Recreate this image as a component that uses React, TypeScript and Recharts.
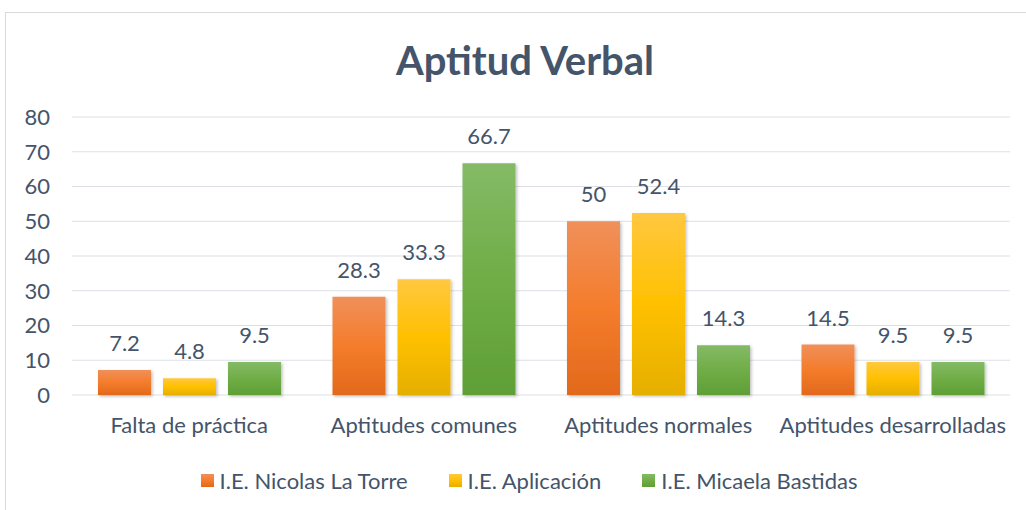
import React from "react";
import { BarChart, Bar, XAxis, YAxis, CartesianGrid, LabelList, Legend } from "recharts";

const categories = ["Falta de práctica", "Aptitudes comunes", "Aptitudes normales", "Aptitudes desarrolladas"];
const nicolasLaTorre = [7.2, 28.3, 50, 14.5];
const aplicacion = [4.8, 33.3, 52.4, 9.5];
const micaelaBastidas = [9.5, 66.7, 14.3, 9.5];
const yTicks = [0, 10, 20, 30, 40, 50, 60, 70, 80];

const seriesInfo = [
  { key: "nicolas", name: "I.E. Nicolas La Torre", grad: "gOrange", stops: ["#F0905A", "#F47C2C", "#E2691B"] },
  { key: "aplicacion", name: "I.E. Aplicación", grad: "gYellow", stops: ["#FFC840", "#FFC000", "#E5AF00"] },
  { key: "micaela", name: "I.E. Micaela Bastidas", grad: "gGreen", stops: ["#84BA66", "#70AD47", "#5F9F36"] },
];

const data = categories.map((c, i) => ({
  category: c,
  nicolas: nicolasLaTorre[i],
  aplicacion: aplicacion[i],
  micaela: micaelaBastidas[i],
}));

const FONT = "Lato, 'Open Sans', sans-serif";
const TEXT = "#44546A";
const FS = 22;

const LegendContent = () => (
  <div style={{ display: "flex", justifyContent: "center", gap: 41, fontFamily: FONT, fontSize: FS, color: TEXT, paddingLeft: 48 }}>
    {seriesInfo.map((s) => (
      <div key={s.key} style={{ display: "flex", alignItems: "center" }}>
        <span
          style={{
            display: "inline-block",
            width: 13,
            height: 13,
            marginRight: 6,
            background: `linear-gradient(${s.stops[0]}, ${s.stops[1]}, ${s.stops[2]})`,
          }}
        />
        <span>{s.name}</span>
      </div>
    ))}
  </div>
);

export default function App() {
  return (
    <div style={{ position: "absolute", left: 0, top: 0, width: 1026, height: 510, background: "#fff", overflow: "hidden" }}>
      <div
        style={{
          position: "absolute",
          left: 5,
          top: 12,
          width: 1100,
          height: 600,
          border: "1px solid #D9D9D9",
          boxSizing: "border-box",
        }}
      />
      <div
        style={{
          position: "absolute",
          left: 0,
          width: 1050,
          top: 36,
          lineHeight: "48px",
          textAlign: "center",
          fontFamily: FONT,
          fontWeight: 700,
          fontSize: 40,
          color: TEXT,
        }}
      >
        Aptitud Verbal
      </div>
      <div style={{ position: "absolute", left: 0, top: 0 }}>
        <BarChart
          width={1026}
          height={510}
          data={data}
          margin={{ top: 117, right: 16, bottom: 0, left: 0 }}
          barGap={12}
          barCategoryGap={26}
        >
          <defs>
            {seriesInfo.map((s) => (
              <linearGradient key={s.grad} id={s.grad} x1="0" y1="0" x2="0" y2="1">
                <stop offset="0%" stopColor={s.stops[0]} />
                <stop offset="50%" stopColor={s.stops[1]} />
                <stop offset="100%" stopColor={s.stops[2]} />
              </linearGradient>
            ))}
            <filter id="shadow" x="-10%" y="-10%" width="130%" height="130%">
              <feDropShadow dx="1.5" dy="1.5" stdDeviation="1.5" floodColor="#000" floodOpacity="0.25" />
            </filter>
          </defs>
          <CartesianGrid vertical={false} stroke="#DCE0E6" strokeWidth={1.2} />
          <XAxis
            dataKey="category"
            axisLine={false}
            tickLine={false}
            tickSize={0}
            tickMargin={22}
            height={62}
            interval={0}
            tick={{ fill: TEXT, fontSize: FS, fontFamily: FONT }}
          />
          <YAxis
            domain={[0, 80]}
            ticks={yTicks}
            axisLine={false}
            tickLine={false}
            tickSize={0}
            tickMargin={22}
            width={72}
            tick={{ fill: TEXT, fontSize: FS, fontFamily: FONT }}
          />
          <Legend verticalAlign="bottom" height={53} wrapperStyle={{ bottom: -10 }} content={<LegendContent />} />
          {seriesInfo.map((s) => (
            <Bar
              key={s.key}
              dataKey={s.key}
              name={s.name}
              fill={`url(#${s.grad})`}
              filter="url(#shadow)"
              isAnimationActive={false}
            >
              <LabelList dataKey={s.key} position="top" offset={19} fill={TEXT} fontSize={FS} fontFamily={FONT} />
            </Bar>
          ))}
        </BarChart>
      </div>
    </div>
  );
}
